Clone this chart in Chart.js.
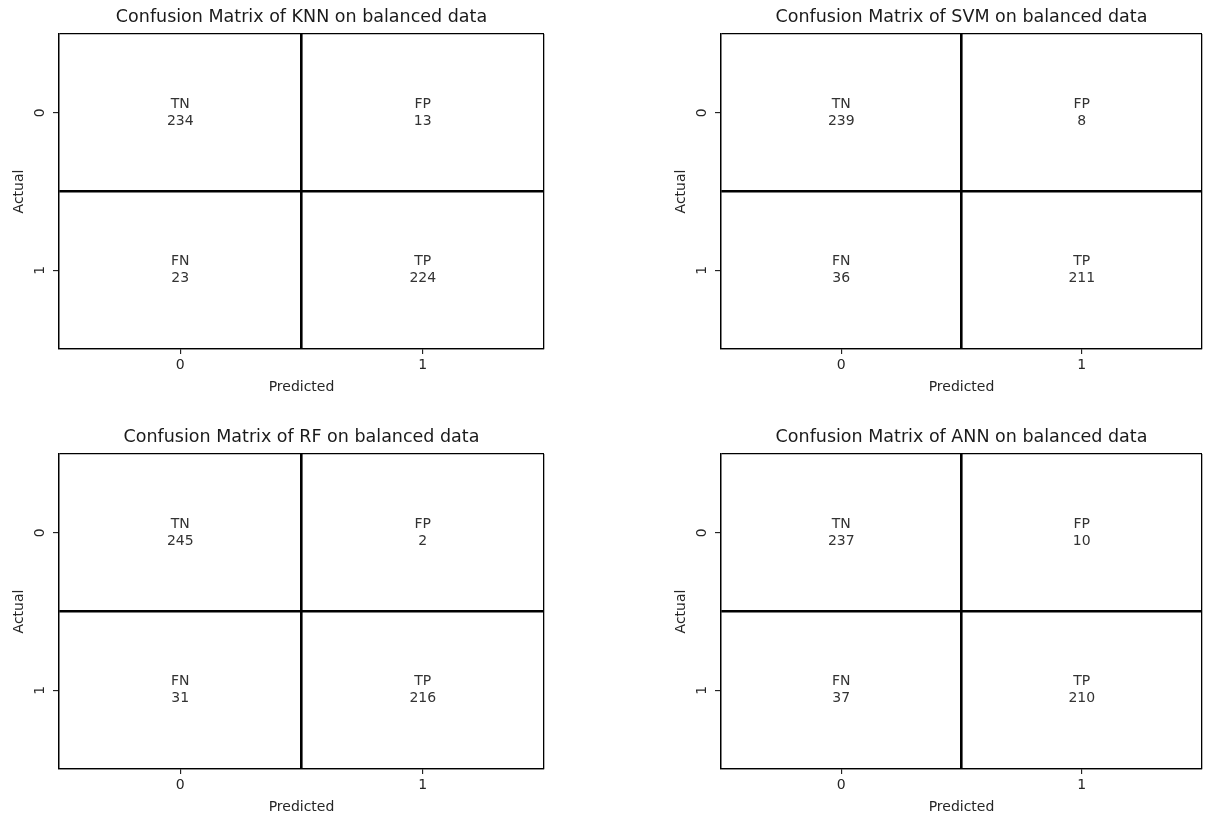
<!DOCTYPE html>
<html>
<head>
<meta charset="utf-8">
<script src="https://cdn.jsdelivr.net/npm/chart.js@4"></script>
<style>
  html, body { margin: 0; padding: 0; background: #fff; overflow: hidden; }
  canvas { position: absolute; }
</style>
</head>
<body>
<canvas id="knn" width="560" height="400" style="left:0;top:0"></canvas>
<canvas id="svm" width="544" height="400" style="left:662px;top:0"></canvas>
<canvas id="rf" width="560" height="400" style="left:0;top:420px"></canvas>
<canvas id="ann" width="544" height="400" style="left:662px;top:420px"></canvas>
<script>
// confusion matrix cells, row-major: actual 0 / 1, predicted 0 / 1
cellNames = ['TN', 'FP', 'FN', 'TP']
predictedIdx = [0, 1, 0, 1]
actualIdx = [0, 0, 1, 1]
tickLabels = ['0', '1']

knnCounts = [234, 13, 23, 224]
svmCounts = [239, 8, 36, 211]
rfCounts = [245, 2, 31, 216]
annCounts = [237, 10, 37, 210]

Chart.defaults.font.family = "'DejaVu Sans', sans-serif"
Chart.defaults.color = '#262626'

// writes "TN\n234" at each cell centre
cellText = {
	id: 'cellText',
	afterDatasetsDraw(chart) {
		var ctx = chart.ctx
		var meta = chart.getDatasetMeta(0)
		var counts = chart.data.datasets[0].counts
		ctx.save()
		ctx.font = "14px 'DejaVu Sans'"
		ctx.fillStyle = '#333'
		ctx.textAlign = 'center'
		ctx.textBaseline = 'middle'
		meta.data.forEach(function (pt, i) {
			ctx.fillText(cellNames[i], pt.x, pt.y - 8.5)
			ctx.fillText(String(counts[i]), pt.x, pt.y + 8.5)
		})
		ctx.restore()
	}
}

function gridColor(c) {
	var v = c.tick.value
	return (v === 0.5 || v === -0.5 || v === 1.5) ? '#000' : 'rgba(0,0,0,0)'
}
function gridWidth(c) {
	return c.tick.value === 0.5 ? 2.6 : 1.3
}
function tickColor(c) {
	return Number.isInteger(c.tick.value) ? '#000' : 'rgba(0,0,0,0)'
}
function tickText(v) {
	return Number.isInteger(v) ? tickLabels[v] : ''
}

function makeMatrix(id, model, counts, rightPad) {
	var points = counts.map(function (c, i) { return {x: predictedIdx[i], y: actualIdx[i]} })
	return new Chart(document.getElementById(id), {
		type: 'scatter',
		data: {
			datasets: [{
				data: points,
				counts: counts,
				pointRadius: 0,
				pointHoverRadius: 0
			}]
		},
		options: {
			responsive: false,
			animation: false,
			events: [],
			layout: { padding: { right: rightPad } },
			plugins: {
				legend: { display: false },
				tooltip: { enabled: false },
				title: {
					display: true,
					text: 'Confusion Matrix of ' + model + ' on balanced data',
					fullSize: false,
					color: '#1a1a1a',
					font: { size: 17.5, weight: 'normal' },
					padding: { top: 7, bottom: 6 }
				}
			},
			scales: {
				x: {
					type: 'linear',
					min: -0.5, max: 1.5,
					afterFit: function (s) { s.height = 51 },
					ticks: { stepSize: 0.5, autoSkip: false, maxRotation: 0, padding: 3, font: { size: 14 }, callback: tickText },
					grid: { color: gridColor, lineWidth: gridWidth, tickColor: tickColor, tickWidth: 1, tickLength: 5 },
					border: { display: true, color: '#000', width: 1.3 },
					title: { display: true, text: 'Predicted', font: { size: 14 }, padding: { top: 0, bottom: 4.5 } }
				},
				y: {
					type: 'linear',
					reverse: true,
					min: -0.5, max: 1.5,
					afterFit: function (s) { s.width = 59 },
					ticks: { stepSize: 0.5, autoSkip: false, minRotation: 90, maxRotation: 90, crossAlign: 'center', padding: 8, font: { size: 14 }, callback: tickText },
					grid: { color: gridColor, lineWidth: gridWidth, tickColor: tickColor, tickWidth: 1, tickLength: 6 },
					border: { display: true, color: '#000', width: 1.3 },
					title: { display: true, text: 'Actual', font: { size: 14 }, padding: { top: 10.6, bottom: 0 } }
				}
			}
		},
		plugins: [cellText]
	})
}

makeMatrix('knn', 'KNN', knnCounts, 16)
makeMatrix('svm', 'SVM', svmCounts, 4)
makeMatrix('rf', 'RF', rfCounts, 16)
makeMatrix('ann', 'ANN', annCounts, 4)
</script>
</body>
</html>
